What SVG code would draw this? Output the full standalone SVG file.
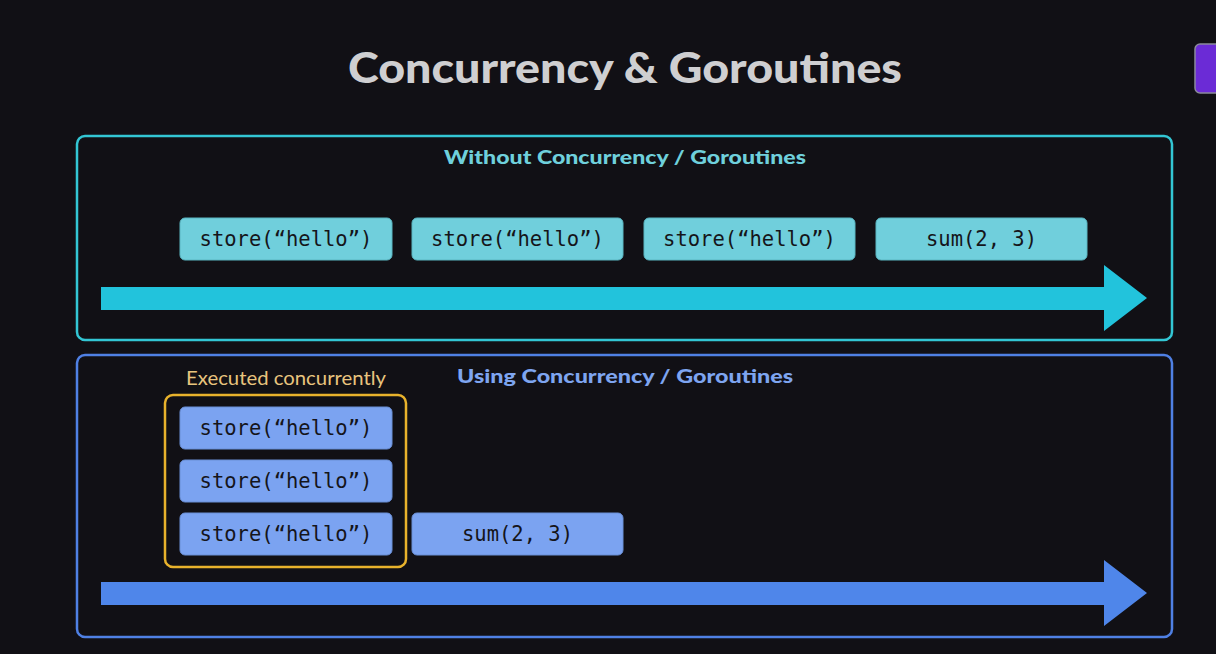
<svg xmlns="http://www.w3.org/2000/svg" width="1216" height="654" viewBox="0 0 1216 654">
<style>
.title{font-family:"Lato","Liberation Sans",sans-serif;font-weight:900;font-size:42px;fill:#cfcfd1}
.sub{font-family:"Lato","Liberation Sans",sans-serif;font-weight:900;font-size:19px}
.code{font-family:"DejaVu Sans Mono","Liberation Mono",monospace;font-size:20.5px;fill:#15151a;text-anchor:middle}
.cbox{fill:#70cfdc;stroke:#5ab6c2;stroke-width:1}
.bbox{fill:#7ba3f1;stroke:#6a8fd6;stroke-width:1}
</style>
<rect width="1216" height="654" fill="#111015"/>
<rect x="1195" y="44" width="30" height="49" rx="5" fill="#6b2bd6" stroke="#8a8a9a" stroke-width="1.5"/>
<text class="title" x="625" y="83" text-anchor="middle" textLength="554" lengthAdjust="spacingAndGlyphs">Concurrency &amp; Goroutines</text>

<g id="panel-without">
<rect x="77" y="136" width="1095" height="204" rx="8" fill="none" stroke="#33c6d4" stroke-width="2.5"/>
<text class="sub" x="625" y="164" text-anchor="middle" fill="#6fd0dc" textLength="362" lengthAdjust="spacingAndGlyphs">Without Concurrency / Goroutines</text>
</g>
<g id="w1"><rect class="cbox" x="180" y="218" width="212" height="42" rx="5"/><text class="code" x="286" y="246">store(“hello”)</text></g>
<g id="w2"><rect class="cbox" x="412" y="218" width="211" height="42" rx="5"/><text class="code" x="517.5" y="246">store(“hello”)</text></g>
<g id="w3"><rect class="cbox" x="644" y="218" width="211" height="42" rx="5"/><text class="code" x="749.5" y="246">store(“hello”)</text></g>
<g id="w4"><rect class="cbox" x="876" y="218" width="211" height="42" rx="5"/><text class="code" x="981.5" y="246">sum(2, 3)</text></g>

<g id="panel-using">
<rect x="77" y="355" width="1095" height="282" rx="8" fill="none" stroke="#4f80e4" stroke-width="2.5"/>
<text class="sub" x="625" y="383" text-anchor="middle" fill="#7ea5f0" textLength="336" lengthAdjust="spacingAndGlyphs">Using Concurrency / Goroutines</text>
</g>
<g id="concurrent-group">
<rect x="165" y="395" width="241" height="172" rx="8" fill="none" stroke="#e8b22c" stroke-width="2.5"/>
<text x="286" y="385" text-anchor="middle" font-family="Lato, 'Liberation Sans', sans-serif" font-weight="400" font-size="20" fill="#e8c47e" textLength="200" lengthAdjust="spacingAndGlyphs">Executed concurrently</text>
</g>
<g id="u1"><rect class="bbox" x="180" y="407" width="212" height="42" rx="5"/><text class="code" x="286" y="435">store(“hello”)</text></g>
<g id="u2"><rect class="bbox" x="180" y="460" width="212" height="42" rx="5"/><text class="code" x="286" y="488">store(“hello”)</text></g>
<g id="u3"><rect class="bbox" x="180" y="513" width="212" height="42" rx="5"/><text class="code" x="286" y="541">store(“hello”)</text></g>
<g id="u4"><rect class="bbox" x="412" y="513" width="211" height="42" rx="5"/><text class="code" x="517.5" y="541">sum(2, 3)</text></g>

<g id="connectors">
<path d="M101 287 H1104 V265 L1147 298 L1104 331 V310 H101 Z" fill="#22c3dc"/>
<path d="M101 582 H1104 V560 L1147 593 L1104 626 V605 H101 Z" fill="#4f86ea"/>
</g>
</svg>
